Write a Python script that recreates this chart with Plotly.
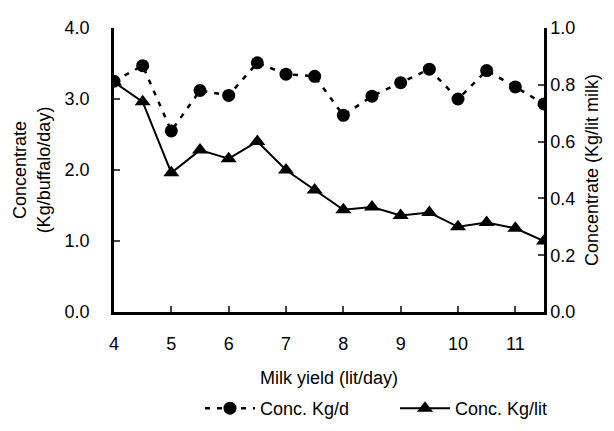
import plotly.graph_objects as go

milk_yield = [4, 4.5, 5, 5.5, 6, 6.5, 7, 7.5, 8, 8.5, 9, 9.5, 10, 10.5, 11, 11.5]
conc_kg_d = [3.25, 3.47, 2.55, 3.12, 3.05, 3.51, 3.35, 3.32, 2.77, 3.04, 3.23, 3.42, 3.00, 3.40, 3.17, 2.93]
conc_kg_lit = [0.81, 0.74, 0.49, 0.57, 0.54, 0.60, 0.50, 0.43, 0.36, 0.37, 0.34, 0.35, 0.30, 0.315, 0.295, 0.25]

left_ticks = [0, 1, 2, 3, 4]
right_ticks = [0, 0.2, 0.4, 0.6, 0.8, 1.0]
x_ticks = [4, 5, 6, 7, 8, 9, 10, 11]

font = "Liberation Sans, Arial, sans-serif"
fs = 18

fig = go.Figure()
fig.add_trace(go.Scatter(
    x=milk_yield, y=conc_kg_d, name="Conc. Kg/d", mode="lines+markers",
    line=dict(color="black", width=2.5, dash="5px,7px"),
    marker=dict(symbol="circle", size=13, color="black"),
    yaxis="y"))
fig.add_trace(go.Scatter(
    x=milk_yield, y=conc_kg_lit, name="Conc. Kg/lit", mode="lines+markers",
    line=dict(color="black", width=2),
    marker=dict(symbol="triangle-up", size=14, color="black"),
    yaxis="y2"))

fig.update_layout(
    width=614, height=431,
    margin=dict(l=106, r=78, t=20, b=119),
    paper_bgcolor="white", plot_bgcolor="white",
    font=dict(family=font, size=fs, color="black"),
    showlegend=True,
    legend=dict(orientation="h", x=0.2, xanchor="left", y=-0.405, yanchor="bottom",
                font=dict(size=fs), traceorder="normal", itemwidth=50,
                entrywidth=130, entrywidthmode="pixels"),
    xaxis=dict(range=[4, 11.5], tickvals=x_ticks, ticks="inside", ticklen=6,
               tickwidth=2, showline=True, linewidth=2.5, linecolor="black",
               showgrid=False, zeroline=False, automargin=False, ticklabelstandoff=14,
               title=dict(text="Milk yield (lit/day)", font=dict(size=fs), standoff=19)),
    yaxis=dict(range=[0, 4], tickvals=left_ticks, tickformat=".1f", ticks="inside",
               ticklen=6, tickwidth=2, showline=True, linewidth=2.5, linecolor="black",
               showgrid=False, zeroline=False, automargin=False, ticklabelstandoff=18,
               title=dict(text="Concentrate<br>(Kg/buffalo/day)", font=dict(size=fs), standoff=10)),
    yaxis2=dict(range=[0, 1], tickvals=right_ticks, tickformat=".1f", ticks="inside",
                ticklen=6, tickwidth=2, showline=True, linewidth=2.5, linecolor="black",
                showgrid=False, zeroline=False, overlaying="y", side="right", automargin=False,
                ticklabelstandoff=0,
                title=dict(text="Concentrate (Kg/lit milk)", font=dict(size=fs), standoff=12)),
)

fig.write_html("out.html")
